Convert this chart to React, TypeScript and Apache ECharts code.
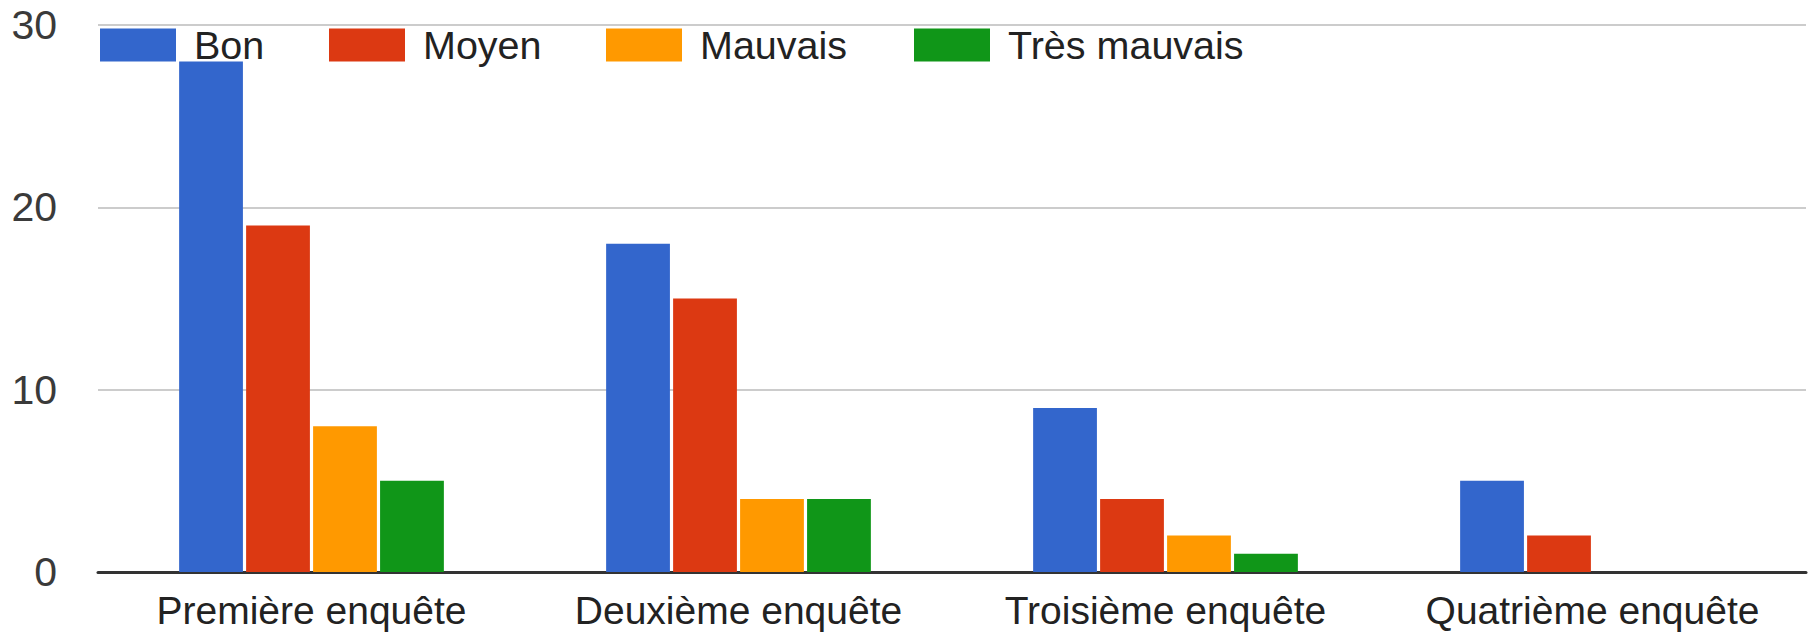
import React, { useEffect, useRef } from "react";
import * as echarts from "echarts";

const categories = ["Première enquête", "Deuxième enquête", "Troisième enquête", "Quatrième enquête"];
const seriesNames = ["Bon", "Moyen", "Mauvais", "Très mauvais"];
const bon = [28, 18, 9, 5];
const moyen = [19, 15, 4, 2];
const mauvais = [8, 4, 2, 0];
const tresMauvais = [5, 4, 1, 0];
const yTicks = [0, 10, 20, 30];

const colors = ["#3366CC", "#DC3912", "#FF9900", "#109618"];
const legendLefts = [100, 329, 606, 914];
const FONT = "'Liberation Sans', Arial, sans-serif";

export default function App() {
  const ref = useRef<HTMLDivElement>(null);
  useEffect(() => {
    document.body.style.margin = "0";
    const chart = echarts.init(ref.current!, null, { renderer: "svg" });
    const values = [bon, moyen, mauvais, tresMauvais];
    chart.setOption({
      animation: false,
      backgroundColor: "#ffffff",
      textStyle: { fontFamily: FONT },
      grid: { left: 98, right: 3, top: 25, bottom: 60, containLabel: false },
      legend: seriesNames.map((n, i) => ({
        data: [n],
        left: legendLefts[i],
        top: 25,
        padding: 0,
        itemWidth: 76,
        itemHeight: 33,
        icon: "rect",
        selectedMode: false,
        textStyle: { fontSize: 39.5, color: "#222222", fontFamily: FONT, padding: [0, 0, 0, 13] },
      })),
      xAxis: {
        type: "category",
        data: categories,
        axisTick: { show: false },
        axisLine: { lineStyle: { color: "#333333", width: 3 } },
        axisLabel: { interval: 0, hideOverlap: false, fontSize: 39, color: "#222222", margin: 19, fontFamily: FONT },
      },
      yAxis: {
        type: "value",
        min: yTicks[0],
        max: yTicks[yTicks.length - 1],
        interval: 10,
        axisLine: { show: false },
        axisTick: { show: false },
        splitLine: { lineStyle: { color: "#cccccc", width: 2 } },
        axisLabel: { fontSize: 41, color: "#3a3a3a", margin: 41, fontFamily: FONT },
      },
      series: seriesNames.map((n, i) => ({
        name: n,
        type: "bar",
        data: values[i],
        itemStyle: { color: colors[i] },
        barCategoryGap: "38%",
        barGap: "5%",
      })),
    });
    return () => chart.dispose();
  }, []);
  return <div ref={ref} style={{ position: "fixed", left: 0, top: 0, width: 1809, height: 632 }} />;
}
